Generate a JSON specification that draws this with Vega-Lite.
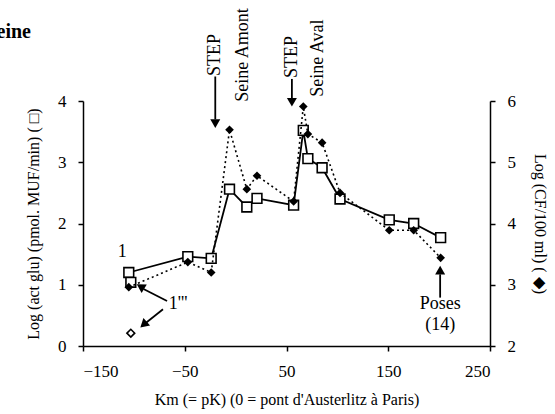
{
  "$schema": "https://vega.github.io/schema/vega-lite/v6.json",
  "width": 407,
  "height": 245,
  "autosize": "none",
  "padding": {"left": 83, "top": 101, "right": 65, "bottom": 68},
  "background": "white",
  "title": {
    "text": "Seine",
    "anchor": "start",
    "frame": "group",
    "align": "right",
    "baseline": "alphabetic",
    "dx": -52,
    "offset": -50,
    "font": "Liberation Serif",
    "fontSize": 20,
    "fontWeight": "bold",
    "color": "black"
  },
  "config": {
    "view": {"stroke": null},
    "font": "Liberation Serif",
    "axis": {
      "grid": false,
      "domainColor": "black",
      "domainWidth": 1.5,
      "tickColor": "black",
      "tickWidth": 1.5,
      "tickSize": 5,
      "labelFont": "Liberation Serif",
      "labelFontSize": 17,
      "labelColor": "black",
      "titleFont": "Liberation Serif",
      "titleFontSize": 16,
      "titleFontWeight": "normal",
      "titleColor": "black"
    }
  },
  "datasets": {
    "glu": [
      {"km": -105, "v": 1.20},
      {"km": -47, "v": 1.46},
      {"km": -24, "v": 1.43},
      {"km": -6, "v": 2.56},
      {"km": 11, "v": 2.27},
      {"km": 21, "v": 2.41},
      {"km": 57, "v": 2.30},
      {"km": 66.5, "v": 3.52},
      {"km": 71, "v": 3.06},
      {"km": 85, "v": 2.91},
      {"km": 102.6, "v": 2.40},
      {"km": 151, "v": 2.06},
      {"km": 175, "v": 2.00},
      {"km": 201.5, "v": 1.77}
    ],
    "glu1": [
      {"km": -103, "v": 1.04}
    ],
    "cf": [
      {"km": -105, "v": 2.96},
      {"km": -47, "v": 3.37},
      {"km": -24, "v": 3.20},
      {"km": -6, "v": 5.53},
      {"km": 11, "v": 4.56},
      {"km": 21, "v": 4.78},
      {"km": 57, "v": 4.36},
      {"km": 66.5, "v": 5.91},
      {"km": 71, "v": 5.46},
      {"km": 85, "v": 5.32},
      {"km": 102.6, "v": 4.50},
      {"km": 151, "v": 3.89},
      {"km": 175, "v": 3.89},
      {"km": 201.5, "v": 3.44}
    ],
    "cf1": [
      {"km": -103, "v": 2.21}
    ],
    "vlabels": [
      {"km": -20, "v": 4.75, "t": "STEP"},
      {"km": 7.5, "v": 4.75, "t": "Seine Amont"},
      {"km": 55.3, "v": 4.72, "t": "STEP"},
      {"km": 81, "v": 4.70, "t": "Seine Aval"}
    ],
    "hlabels": [
      {"km": -111.5, "v": 1.53, "t": "1"},
      {"km": -56.5, "v": 0.69, "t": "1'''"},
      {"km": 201, "v": 0.69, "t": "Poses"},
      {"km": 201, "v": 0.34, "t": "(14)"}
    ],
    "shafts": [
      {"km": -20, "v": 4.40, "v2": 3.70},
      {"km": 55.3, "v": 4.36, "v2": 4.02},
      {"km": 201, "v": 0.79, "v2": 1.17}
    ],
    "diag": [
      {"km": -67.4, "v": 0.735, "km2": -90.5, "v2": 0.93},
      {"km": -71.4, "v": 0.60, "km2": -88, "v2": 0.38}
    ],
    "headsDown": [
      {"km": -20, "v": 3.63},
      {"km": 55.3, "v": 3.98}
    ],
    "headsUp": [
      {"km": 201, "v": 1.24}
    ],
    "head1": [
      {"km": -93.5, "v": 0.97}
    ],
    "head2": [
      {"km": -90.5, "v": 0.35}
    ]
  },
  "layer": [
    {
      "encoding": {
        "x": {
          "field": "km",
          "type": "quantitative",
          "scale": {"domain": [-150, 250], "nice": false, "zero": false},
          "axis": {
            "values": [-150, -50, 50, 150, 250],
            "labelPadding": 12,
            "titlePadding": 12,
            "title": "Km (= pK) (0 = pont d'Austerlitz à Paris)"
          }
        },
        "y": {
          "field": "v",
          "type": "quantitative",
          "scale": {"domain": [0, 4], "nice": false, "zero": false},
          "axis": {
            "orient": "left",
            "values": [0, 1, 2, 3, 4],
            "labelPadding": 12,
            "titlePadding": 16,
            "title": "Log (act glu) (pmol. MUF/min) ( □)"
          }
        }
      },
      "layer": [
        {
          "data": {"name": "glu"},
          "mark": {"type": "line", "color": "black", "strokeWidth": 1.8}
        },
        {
          "data": {"name": "glu"},
          "mark": {"type": "point", "shape": "square", "size": 95, "filled": true, "fill": "white", "stroke": "black", "strokeWidth": 1.6, "opacity": 1}
        },
        {
          "data": {"name": "glu1"},
          "mark": {"type": "point", "shape": "square", "size": 95, "filled": true, "fill": "white", "stroke": "black", "strokeWidth": 1.6, "opacity": 1}
        },
        {
          "data": {"name": "shafts"},
          "mark": {"type": "rule", "color": "black", "strokeWidth": 1.8},
          "encoding": {"y2": {"field": "v2"}}
        },
        {
          "data": {"name": "diag"},
          "mark": {"type": "rule", "color": "black", "strokeWidth": 1.8},
          "encoding": {"x2": {"field": "km2"}, "y2": {"field": "v2"}}
        },
        {
          "data": {"name": "headsDown"},
          "mark": {"type": "point", "shape": "triangle-down", "size": 100, "filled": true, "color": "black", "opacity": 1}
        },
        {
          "data": {"name": "headsUp"},
          "mark": {"type": "point", "shape": "triangle-up", "size": 100, "filled": true, "color": "black", "opacity": 1}
        },
        {
          "data": {"name": "head1"},
          "mark": {"type": "point", "shape": "triangle-up", "angle": 301, "size": 100, "filled": true, "color": "black", "opacity": 1}
        },
        {
          "data": {"name": "head2"},
          "mark": {"type": "point", "shape": "triangle-up", "angle": 228, "size": 100, "filled": true, "color": "black", "opacity": 1}
        },
        {
          "data": {"name": "vlabels"},
          "mark": {"type": "text", "angle": 270, "align": "center", "baseline": "middle", "font": "Liberation Serif", "fontSize": 18, "color": "black"},
          "encoding": {"text": {"field": "t"}}
        },
        {
          "data": {"name": "hlabels"},
          "mark": {"type": "text", "align": "center", "baseline": "middle", "font": "Liberation Serif", "fontSize": 18, "color": "black"},
          "encoding": {"text": {"field": "t"}}
        }
      ]
    },
    {
      "encoding": {
        "x": {
          "field": "km",
          "type": "quantitative",
          "scale": {"domain": [-150, 250], "nice": false, "zero": false},
          "axis": {
            "values": [-150, -50, 50, 150, 250],
            "labelPadding": 12,
            "titlePadding": 12,
            "title": "Km (= pK) (0 = pont d'Austerlitz à Paris)"
          }
        },
        "y": {
          "field": "v",
          "type": "quantitative",
          "scale": {"domain": [2, 6], "nice": false, "zero": false},
          "axis": {
            "orient": "right",
            "values": [2, 3, 4, 5, 6],
            "labelPadding": 12,
            "titlePadding": 16,
            "title": "Log (CF/100 ml) ( ◆)"
          }
        }
      },
      "layer": [
        {
          "data": {"name": "cf"},
          "mark": {"type": "line", "color": "black", "strokeWidth": 1.6, "strokeDash": [2, 3]}
        },
        {
          "data": {"name": "cf"},
          "mark": {"type": "point", "shape": "diamond", "size": 75, "filled": true, "color": "black", "opacity": 1}
        },
        {
          "data": {"name": "cf1"},
          "mark": {"type": "point", "shape": "diamond", "size": 60, "filled": true, "fill": "white", "stroke": "black", "strokeWidth": 1.6, "opacity": 1}
        }
      ]
    }
  ],
  "resolve": {"scale": {"y": "independent"}, "axis": {"y": "independent"}}
}
